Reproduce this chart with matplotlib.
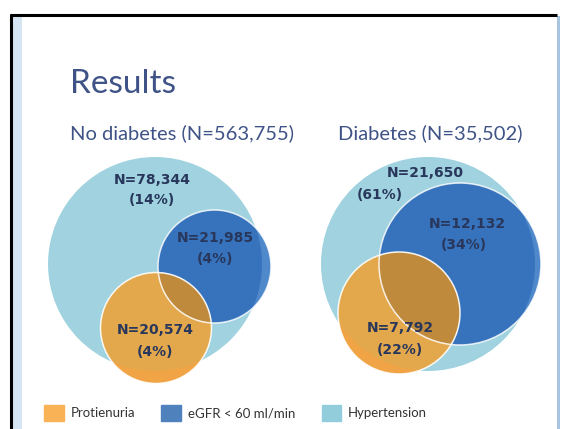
import matplotlib.pyplot as plt
from matplotlib.patches import Circle, Rectangle, Patch

# data
groups = ["No diabetes (N=563,755)", "Diabetes (N=35,502)"]
sets = ["Protienuria", "eGFR < 60 ml/min", "Hypertension"]
hyper_n = ["N=78,344", "N=21,650"]
hyper_pct = ["(14%)", "(61%)"]
egfr_n = ["N=21,985", "N=12,132"]
egfr_pct = ["(4%)", "(34%)"]
prot_n = ["N=20,574", "N=7,792"]
prot_pct = ["(4%)", "(22%)"]

# layout of the two venns, in pixels (cx, cy, r)
big_c = [(155, 264, 107), (428, 264, 107)]
blue_c = [(214.5, 266.5, 56.5), (460, 264, 81)]
orng_c = [(156, 328, 55.5), (399, 313, 61)]
lbl_big = [(152, 180, 200), (425, 173, 195)]
lbl_big_x2 = [152, 380]
lbl_blue = [(215, 238, 259), (467, 224, 245)]
lbl_orng = [(155, 330, 352), (400, 328, 350)]

c_big = "#a0d3df"
c_blue_out = "#4f89cb"
c_blue_in = "#3673bc"
c_org_out = "#f1a445"
c_org_in = "#e4a84c"
c_brown = "#c08a3d"
c_text = "#28375b"
c_title = "#3f5387"

fig = plt.figure(figsize=(5.61, 4.29), dpi=100)
ax = fig.add_axes([0, 0, 1, 1])
ax.set_xlim(0, 561)
ax.set_ylim(429, 0)
ax.axis("off")

# slide frame
ax.add_patch(Rectangle((12, 16), 10, 413, color="#d6e5f3", lw=0))
ax.add_patch(Rectangle((557.5, 16), 2.5, 413, color="#a9c4de", lw=0))
ax.plot([10, 557], [15, 15], color="black", lw=2.2, solid_capstyle="butt")
ax.plot([10.7, 10.7], [14, 429], color="black", lw=2.2, solid_capstyle="butt")

ax.text(70, 93, "Results", fontsize=24, family="Lato", color=c_title, va="baseline")
ax.text(70, 139.5, groups[0], fontsize=14.5, family="Lato", color=c_title, va="baseline")
ax.text(338, 139.5, groups[1], fontsize=14.5, family="Lato", color=c_title, va="baseline")

for i in range(2):
    bx, by, br = big_c[i]
    ux, uy, ur = blue_c[i]
    ox, oy, orr = orng_c[i]
    big = Circle((bx, by), br, color=c_big, lw=0)
    ax.add_patch(big)

    ax.add_patch(Circle((ux, uy), ur, color=c_blue_out, lw=0))
    p = Circle((ux, uy), ur, color=c_blue_in, lw=0)
    ax.add_patch(p)
    p.set_clip_path(big)

    ax.add_patch(Circle((ox, oy), orr, color=c_org_out, lw=0))
    p = Circle((ox, oy), orr, color=c_org_in, lw=0)
    ax.add_patch(p)
    p.set_clip_path(big)
    blue_clip = Circle((ux, uy), ur, transform=ax.transData)
    p = Circle((ox, oy), orr, color=c_brown, lw=0)
    ax.add_patch(p)
    p.set_clip_path(blue_clip)

    ax.add_patch(Circle((ux, uy), ur, fill=False, ec="white", lw=1.1, alpha=0.85))
    ax.add_patch(Circle((ox, oy), orr, fill=False, ec="white", lw=1.1, alpha=0.9))

    kw = dict(fontsize=10, fontweight="bold", color=c_text, ha="center", va="center")
    ax.text(lbl_big[i][0], lbl_big[i][1], hyper_n[i], **kw)
    ax.text(lbl_big_x2[i], lbl_big[i][2], hyper_pct[i], **kw)
    ax.text(lbl_blue[i][0], lbl_blue[i][1], egfr_n[i], **kw)
    ax.text(lbl_blue[i][0] - 3 * i, lbl_blue[i][2], egfr_pct[i], **kw)
    ax.text(lbl_orng[i][0], lbl_orng[i][1], prot_n[i], **kw)
    ax.text(lbl_orng[i][0], lbl_orng[i][2], prot_pct[i], **kw)

handles = [Patch(color=c) for c in ["#f9b256", "#4f81bd", "#92cddc"]]
leg = ax.legend(handles, sets, loc="center left", bbox_to_anchor=(44, 413),
                bbox_transform=ax.transData, ncol=3, frameon=False,
                prop={"family": "Lato", "size": 9.5}, borderpad=0, borderaxespad=0,
                handlelength=1.5, handleheight=1.5, handletextpad=0.5,
                columnspacing=2.0)
for t in leg.get_texts():
    t.set_color("#333333")

fig.savefig("out.png", dpi=100, facecolor="white")
